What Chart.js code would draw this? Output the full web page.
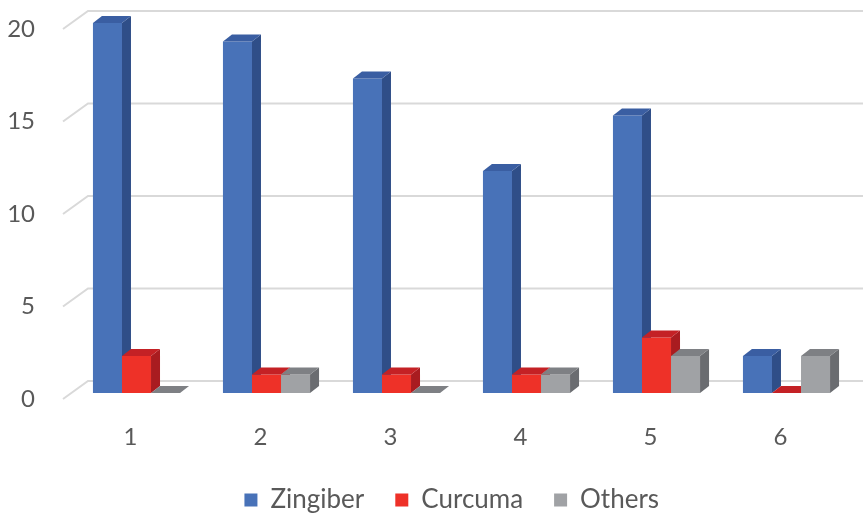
<!DOCTYPE html>
<html><head><meta charset="utf-8">
<script src="https://cdn.jsdelivr.net/npm/chart.js@4/dist/chart.umd.min.js"></script>
<style>html,body{margin:0;padding:0;background:#fff}#wrap{width:863px;height:516px;position:relative}</style>
</head><body><div id="wrap"><canvas id="c"></canvas></div>
<script>
const categories = ['1', '2', '3', '4', '5', '6'];
const zingiber = [20, 19, 17, 12, 15, 2];
const curcuma = [2, 1, 1, 1, 3, 0];
const others = [0, 1, 0, 1, 2, 2];
const seriesNames = ['Zingiber', 'Curcuma', 'Others'];

// front / side / top face colours for each series
const faces = [
  {front: '#4872b8', side: '#2f4e88', top: '#3a5ea2'},
  {front: '#ee3128', side: '#a91c20', top: '#c42125'},
  {front: '#a0a2a5', side: '#6a6c70', top: '#7e8084'}
];
const DEPTH_X = 9, DEPTH_Y = 7;          // bar depth
const GRID_DX = 25, GRID_BACK = 12, GRID_FRONT = 6; // wall perspective of gridlines
const LEGEND_SHIFT_X = 26, LEGEND_SHIFT_Y = 7;
const textColor = '#595959';
const fontFamily = 'Lato, "Open Sans", sans-serif';

const bar3d = {
  id: 'bar3d',
  afterLayout(chart) {
    const lg = chart.legend;
    if (lg) {
      lg.left += LEGEND_SHIFT_X; lg.right += LEGEND_SHIFT_X;
      lg.top += LEGEND_SHIFT_Y; lg.bottom += LEGEND_SHIFT_Y;
    }
  },
  beforeDatasetsDraw(chart) {
    const {ctx, scales: {y}} = chart;
    const x0 = chart.chartArea.left - 8.5;

    // back-wall gridlines with their slanted side-wall segment, plus value labels
    ctx.save();
    ctx.strokeStyle = '#d9d9d9';
    ctx.lineWidth = 2;
    ctx.fillStyle = textColor;
    ctx.font = '24px ' + fontFamily;
    ctx.textAlign = 'right';
    ctx.textBaseline = 'middle';
    y.ticks.forEach(t => {
      const p = y.getPixelForValue(t.value);
      const back = p - GRID_BACK, front = p + GRID_FRONT;
      ctx.beginPath();
      ctx.moveTo(x0, front);
      ctx.lineTo(x0 + GRID_DX, back);
      ctx.lineTo(chart.width, back);
      ctx.stroke();
      ctx.fillText(String(t.value), 35, front);
    });
    ctx.restore();

    // bars, category by category so nearer faces cover the ones behind
    ctx.save();
    const metas = chart.data.datasets.map((d, i) => chart.getDatasetMeta(i));
    for (let i = 0; i < categories.length; i++) {
      metas.forEach((meta, d) => {
        const el = meta.data[i];
        const c = faces[d];
        const l = el.x - el.width / 2, r = el.x + el.width / 2;
        const t = el.y, b = el.base;
        if (b - t > 0) {
          ctx.fillStyle = c.front;
          ctx.fillRect(l, t, r - l, b - t);
        }
        ctx.fillStyle = c.side;
        ctx.beginPath();
        ctx.moveTo(r, t); ctx.lineTo(r + DEPTH_X, t - DEPTH_Y);
        ctx.lineTo(r + DEPTH_X, b - DEPTH_Y); ctx.lineTo(r, b);
        ctx.closePath(); ctx.fill();
        ctx.fillStyle = c.top;
        ctx.beginPath();
        ctx.moveTo(l, t); ctx.lineTo(l + DEPTH_X, t - DEPTH_Y);
        ctx.lineTo(r + DEPTH_X, t - DEPTH_Y); ctx.lineTo(r, t);
        ctx.closePath(); ctx.fill();
      });
    }
    ctx.restore();
    return false;
  }
};

new Chart(document.getElementById('c'), {
  type: 'bar',
  data: {
    labels: categories,
    datasets: [zingiber, curcuma, others].map((vals, i) => ({
      label: seriesNames[i],
      data: vals,
      backgroundColor: faces[i].front,
      borderWidth: 0,
      barPercentage: 1,
      categoryPercentage: 0.67
    }))
  },
  options: {
    responsive: true,
    maintainAspectRatio: false,
    animation: false,
    events: [],
    layout: {padding: {top: 23, right: 11.5, bottom: 0, left: 0}},
    plugins: {
      tooltip: {enabled: false},
      legend: {
        position: 'bottom',
        labels: {
          boxWidth: 13, boxHeight: 13, padding: 31,
          color: textColor,
          font: {family: fontFamily, size: 26}
        }
      }
    },
    scales: {
      x: {
        grid: {display: false, drawTicks: false},
        border: {display: false},
        ticks: {color: textColor, font: {family: fontFamily, size: 24}, padding: 30, labelOffset: -6},
        afterFit(s) { s.height = 56; }
      },
      y: {
        min: 0, max: 20,
        grid: {display: false, drawTicks: false},
        border: {display: false},
        ticks: {stepSize: 5, display: false},
        afterFit(s) { s.width = 71.5; }
      }
    }
  },
  plugins: [bar3d]
});
</script>
</body></html>
